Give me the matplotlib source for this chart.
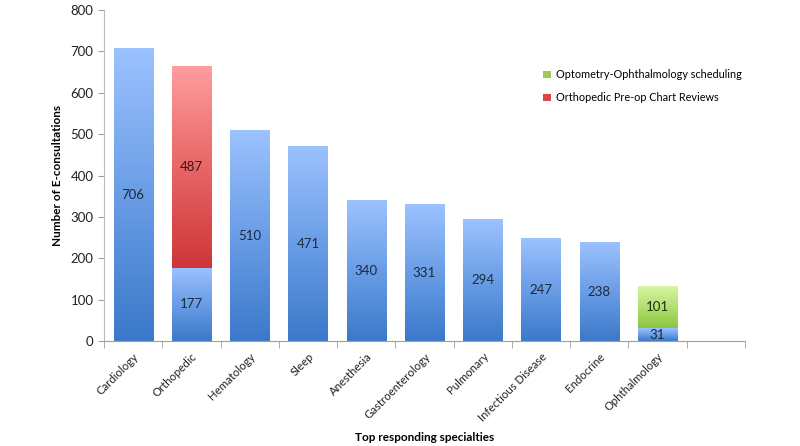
import matplotlib
matplotlib.use("Agg")
import matplotlib.pyplot as plt
import numpy as np
from matplotlib.colors import LinearSegmentedColormap
from matplotlib.patches import Patch

categories = ["Cardiology", "Orthopedic", "Hematology", "Sleep", "Anesthesia",
              "Gastroenterology", "Pulmonary", "Infectious Disease", "Endocrine",
              "Ophthalmology"]
base_values = [706, 177, 510, 471, 340, 331, 294, 247, 238, 31]
ortho_values = [0, 487, 0, 0, 0, 0, 0, 0, 0, 0]
opto_values = [0, 0, 0, 0, 0, 0, 0, 0, 0, 101]
legend_labels = ["Optometry-Ophthalmology scheduling", "Orthopedic Pre-op Chart Reviews"]

plt.rcParams['font.family'] = ['Lato', 'DejaVu Sans']

fig = plt.figure(figsize=(8, 4.46), dpi=100)
ax = fig.add_axes([0.13, 0.2354, 0.801, 0.742])

x = np.arange(len(categories))
width = 0.67

blue_cmap = LinearSegmentedColormap.from_list("b", ["#3B79C9", "#6A9DE6", "#9CC2FF"])
red_cmap = LinearSegmentedColormap.from_list("r", ["#CF3538", "#E86666", "#FF9D9D"])
green_cmap = LinearSegmentedColormap.from_list("g", ["#8CC53F", "#B2DF72", "#D8F4A2"])

grad = np.linspace(0, 1, 256).reshape(-1, 1)

def gradient_bars(bars, cmap, vals, txtcolor):
    for p, v in zip(bars, vals):
        if v <= 0:
            continue
        x0, y0 = p.get_x(), p.get_y()
        w, h = p.get_width(), p.get_height()
        ax.imshow(grad, extent=[x0, x0 + w, y0, y0 + h], origin='lower',
                  aspect='auto', cmap=cmap, zorder=2, interpolation='bicubic')
        ax.text(x0 + w / 2, y0 + h / 2, str(v), ha='center', va='center',
                fontsize=9.5, color=txtcolor, zorder=3)

b1 = ax.bar(x, base_values, width, color='none', edgecolor='none')
b2 = ax.bar(x, ortho_values, width, bottom=base_values, color='none', edgecolor='none')
bottom3 = [a + b for a, b in zip(base_values, ortho_values)]
b3 = ax.bar(x, opto_values, width, bottom=bottom3, color='none', edgecolor='none')

gradient_bars(b1, blue_cmap, base_values, "#1B2A3E")
gradient_bars(b2, red_cmap, ortho_values, "#3A1515")
gradient_bars(b3, green_cmap, opto_values, "#1F3010")

ax.set_xlim(-0.5, len(categories) + 0.5)
ax.set_ylim(0, 800)
ax.set_yticks(np.arange(0, 801, 100))
ax.set_xticks(x)
ax.set_xticklabels(categories, rotation=45, ha='right', rotation_mode='anchor',
                   fontsize=8.2, color='#222222')
ax.set_xticks(np.arange(-0.5, len(categories) + 1, 1), minor=True)
ax.tick_params(axis='x', which='major', length=0, pad=7)
ax.tick_params(axis='x', which='minor', length=5, color='#A0A0A0')
ax.tick_params(axis='y', length=4, color='#A0A0A0', labelsize=9.5, labelcolor='#222222')

for s in ['top', 'right']:
    ax.spines[s].set_visible(False)
ax.spines['left'].set_color('#BBBBBB')
ax.spines['bottom'].set_color('#A0A0A0')

ax.set_ylabel("Number of E-consultations", fontsize=8.5, fontweight='bold')
ax.yaxis.set_label_coords(-0.064, 0.5)
ax.set_xlabel("Top responding specialties", fontsize=8.5, fontweight='bold')
ax.xaxis.set_label_coords(0.5, -0.275)

handles = [Patch(facecolor="#9ACB5A"), Patch(facecolor="#D9474A")]
ax.legend(handles, legend_labels, loc='upper left', bbox_to_anchor=(0.67, 0.85),
          frameon=False, fontsize=7.8, handlelength=0.7, handleheight=0.7,
          handletextpad=0.5, labelspacing=1.1)

fig.savefig("out.png", dpi=100)
